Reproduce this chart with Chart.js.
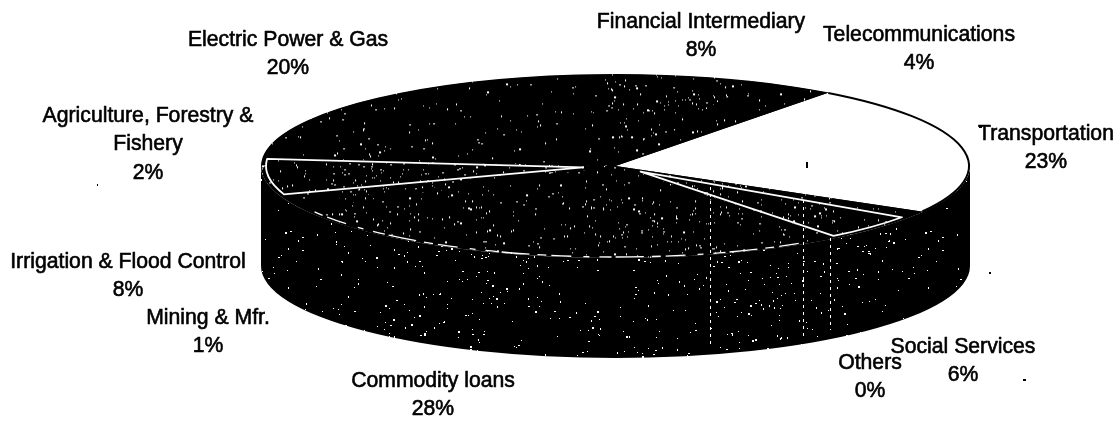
<!DOCTYPE html>
<html><head><meta charset="utf-8">
<style>html,body{margin:0;padding:0;background:#fff}canvas{display:block}</style>
<script src="https://cdn.jsdelivr.net/npm/chart.js@4/dist/chart.umd.min.js"></script>
</head><body><canvas id="c" width="1117" height="421"></canvas>
<script>
const categories = ["Transportation","Social Services","Others","Commodity loans","Mining & Mfr.","Irrigation & Flood Control","Agriculture, Forestry & Fishery","Electric Power & Gas","Financial Intermediary","Telecommunications"];
const shares = [23,6,0,28,1,8,2,20,8,4];
const labelLines = [["Transportation"],["Social Services"],["Others"],["Commodity loans"],["Mining & Mfr."],["Irrigation & Flood Control"],["Agriculture, Forestry &","Fishery"],["Electric Power & Gas"],["Financial Intermediary"],["Telecommunications"]];
const labelCentreX = [1046,963,870,433,208,128,148,288,701,919];
const labelTopY = [134,347,363,381,318,262,116,40,22,35];
const lineGap = 28.5;

const pie = {cx:615.5, cy:166, rx:354.5, ry:92, depth:100, rotation:37};
const squash = pie.ry/pie.rx;
const fontCss = '21.2px "Liberation Sans"';

function tile(dots, seed){
  const t=document.createElement('canvas'); t.width=640; t.height=420;
  const g=t.getContext('2d'); g.fillStyle='#000'; g.fillRect(0,0,640,420);
  g.fillStyle='#fff'; let s=seed;
  const next=()=>{s=(s*1664525+1013904223)>>>0; return s/4294967296;};
  for(let i=0;i<dots;i++){
    const x=next()*640, y=next()*420, a=next(), w=next(), h=next();
    const field=Math.sin(x/29+seed)*Math.cos(y/23)+Math.sin((x+y)/53);
    if(a>0.7+field*0.18) continue;
    g.fillRect(Math.floor(x),Math.floor(y),w>0.75?2:1,h>0.7?2:1);
  }
  return t;
}
const ctx0=document.getElementById('c').getContext('2d');
function stipple(dots,seed,flat){
  const p=ctx0.createPattern(tile(dots,seed),'repeat');
  if(flat) p.setTransform(new DOMMatrix().scale(1,1/squash));
  return p;
}
const topA=stipple(4300,11,true), topB=stipple(2000,29,true), topC=stipple(5600,5,true);
const wall=stipple(2500,47,false);
const sliceFills=['#ffffff',topC,topB,topA,topB,topC,topB,topB,topA,topB];

const scanLines=[[710,187,346],[803,200,338],[830,238,330]];
const specks=[[806,162,2,6],[979,125,3,3],[989,272,2,2],[1023,379,3,2],[97,184,1,2]];

const threeD={
  id:'threeD',
  beforeDatasetsDraw(chart){
    const c=chart.ctx, {cx,cy,rx,ry,depth}=pie;
    c.save();
    c.beginPath();
    c.moveTo(cx-rx,cy);
    c.lineTo(cx-rx,cy+depth);
    c.ellipse(cx,cy+depth,rx,ry,0,Math.PI,0,true);
    c.lineTo(cx+rx,cy);
    c.ellipse(cx,cy,rx,ry,0,0,Math.PI,false);
    c.closePath();
    c.fillStyle=wall; c.fill();
    c.beginPath();
    c.ellipse(cx,cy,rx-0.5,ry-0.5,0,0,Math.PI*2);
    c.fillStyle='#000'; c.fill();
    c.restore();
    const a=chart.getDatasetMeta(0).data[0];
    c.save();
    c.translate(cx,cy); c.scale(1,squash); c.translate(-a.x,-a.y);
  },
  afterDatasetsDraw(chart){
    const c=chart.ctx, {cx,cy,rx,ry}=pie, arcs=chart.getDatasetMeta(0).data;
    c.restore();
    const outline=(arc,pull,inset,trimStart,trimEnd)=>{
      const mid=(arc.startAngle+arc.endAngle)/2;
      const ax=cx+pull*Math.cos(mid), ay=cy+pull*squash*Math.sin(mid);
      c.beginPath(); c.moveTo(ax,ay);
      c.ellipse(cx,cy,rx-inset,ry-inset*0.5,0,arc.startAngle+trimStart,arc.endAngle-trimEnd);
      c.closePath();
      c.lineJoin='round'; c.strokeStyle='#fff'; c.lineWidth=1.8; c.stroke();
    };
    outline(arcs[1],33,5,0.09,0); outline(arcs[5],33,5,0.1,0);
    // dashed pale rim of the largest slice
    c.save();
    c.beginPath();
    c.ellipse(cx,cy,rx-6,ry-1,0,arcs[3].startAngle+0.12,arcs[3].endAngle-0.03);
    c.setLineDash([20,5,9,8,28,4,12,10,6,12]);
    c.strokeStyle='#fff'; c.lineWidth=1.3; c.stroke();
    c.restore();
    // thin dark rim on the white slice
    c.beginPath();
    c.ellipse(cx,cy,rx-1,ry-0.5,0,arcs[0].startAngle,arcs[0].endAngle);
    c.strokeStyle='#000'; c.lineWidth=2; c.stroke();
    // vertical scan streaks and stray specks
    c.save();
    c.strokeStyle='#fff'; c.lineWidth=1; c.setLineDash([3,4]);
    scanLines.forEach(([x,y1,y2])=>{c.beginPath();c.moveTo(x+.5,y1);c.lineTo(x+.5,y2);c.stroke();});
    c.restore();
    c.fillStyle='#000';
    specks.forEach(([x,y,w,h])=>c.fillRect(x,y,w,h));
    // labels
    c.save();
    c.font=fontCss; c.textAlign='center'; c.textBaseline='middle';
    c.fillStyle='#000'; c.strokeStyle='#000'; c.lineWidth=0.6;
    labelLines.forEach((lines,i)=>{
      [...lines,shares[i]+'%'].forEach((t,j)=>{
        const y=labelTopY[i]+j*lineGap;
        c.fillText(t,labelCentreX[i],y);
        c.strokeText(t,labelCentreX[i],y);
      });
    });
    c.restore();
  }
};

new Chart(ctx0,{
  type:'pie',
  data:{labels:categories,datasets:[{data:shares,backgroundColor:sliceFills,borderWidth:0,clip:false}]},
  options:{
    responsive:false,animation:false,rotation:pie.rotation,radius:pie.rx,
    layout:{padding:0},
    plugins:{legend:{display:false},tooltip:{enabled:false}}
  },
  plugins:[threeD]
});
</script></body></html>
